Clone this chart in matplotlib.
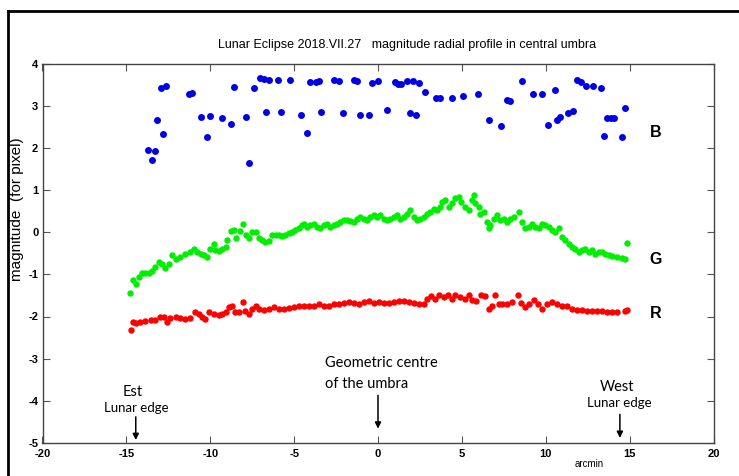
"""
Lunar eclipse 2018.VII.27 - magnitude radial profile across the central umbra.
Points read off the original figure (B, G, R channels).
"""

import matplotlib
matplotlib.use("Agg")
import matplotlib.pyplot as plt
from matplotlib.lines import Line2D
import numpy as np

plt.rcParams["axes.unicode_minus"] = False

# blue channel (arcmin, magnitude)
B_POINTS = [
    (-13.70, 1.95), (-13.49, 1.72), (-13.31, 1.92), (-13.15, 2.66), (-12.79, 2.32),
    (-12.95, 3.43), (-12.63, 3.47), (-11.26, 3.27), (-11.06, 3.30), (-10.54, 2.72),
    (-10.18, 2.25), (-10.03, 2.75), (-9.29, 2.71), (-8.75, 2.57), (-8.60, 3.44),
    (-7.88, 2.74), (-7.70, 1.63), (-7.37, 3.41), (-7.05, 3.65), (-6.81, 3.63),
    (-6.49, 3.61), (-6.67, 2.85), (-5.98, 3.62), (-5.77, 2.86), (-5.24, 3.61),
    (-4.58, 2.78), (-4.21, 2.35), (-4.05, 3.56), (-3.67, 3.55), (-3.49, 3.58),
    (-3.37, 2.86), (-2.64, 3.62), (-2.32, 3.59), (-2.10, 2.83), (-1.45, 3.62),
    (-1.23, 3.59), (-1.09, 2.78), (-0.55, 2.78), (-0.37, 3.54), (0.00, 3.59),
    (0.52, 2.90), (1.02, 3.55), (1.20, 3.51), (1.39, 3.51), (1.73, 3.58),
    (2.09, 3.58), (2.45, 3.54), (1.93, 2.83), (2.27, 2.78), (2.78, 3.32),
    (3.48, 3.19), (3.68, 3.19), (4.39, 3.19), (5.07, 3.24), (5.96, 3.27),
    (6.64, 2.66), (7.31, 2.51), (7.71, 3.13), (7.89, 3.10), (8.59, 3.58),
    (9.26, 3.27), (9.80, 3.27), (10.14, 2.54), (10.53, 3.36), (10.65, 2.65),
    (10.85, 2.72), (11.35, 2.83), (11.60, 2.88), (11.84, 3.61), (12.10, 3.56),
    (12.40, 3.47), (12.80, 3.46), (13.32, 3.42), (13.45, 2.27), (13.68, 2.70),
    (13.88, 2.70), (14.07, 2.70), (14.55, 2.25), (14.73, 2.94),
]

# green channel
G_POINTS = [
    (-14.76, -1.44), (-14.60, -1.14), (-14.40, -1.24), (-14.26, -1.06), (-14.06, -0.98),
    (-13.86, -0.96), (-13.67, -0.98), (-13.46, -0.93), (-13.27, -0.83), (-13.07, -0.71),
    (-12.87, -0.75), (-12.67, -0.85), (-12.47, -0.75), (-12.27, -0.55), (-12.07, -0.64),
    (-11.78, -0.59), (-11.48, -0.51), (-11.18, -0.47), (-10.98, -0.39), (-10.78, -0.47),
    (-10.58, -0.51), (-10.39, -0.55), (-10.18, -0.59), (-9.99, -0.39), (-9.79, -0.29),
    (-9.69, -0.43), (-9.49, -0.45), (-9.29, -0.41), (-9.09, -0.35), (-8.99, -0.19),
    (-8.75, 0.02), (-8.60, 0.05), (-8.44, -0.14), (-8.20, 0.02), (-8.06, 0.20),
    (-7.88, -0.06), (-7.70, -0.15), (-7.50, 0.00), (-7.30, 0.00), (-7.11, -0.13),
    (-6.91, -0.19), (-6.71, -0.23), (-6.51, -0.22), (-6.31, -0.07), (-6.11, -0.07),
    (-5.92, -0.07), (-5.72, -0.09), (-5.52, -0.07), (-5.32, -0.03), (-5.12, 0.00),
    (-4.92, 0.06), (-4.73, 0.10), (-4.53, 0.16), (-4.39, 0.20), (-4.23, 0.12),
    (-4.03, 0.16), (-3.83, 0.20), (-3.63, 0.12), (-3.43, 0.09), (-3.24, 0.18),
    (-3.03, 0.20), (-2.84, 0.12), (-2.64, 0.16), (-2.44, 0.20), (-2.24, 0.24),
    (-2.04, 0.28), (-1.84, 0.28), (-1.64, 0.26), (-1.45, 0.24), (-1.25, 0.32),
    (-1.05, 0.36), (-0.85, 0.32), (-0.65, 0.28), (-0.45, 0.36), (-0.26, 0.40),
    (-0.05, 0.36), (0.14, 0.40), (0.34, 0.32), (0.54, 0.28), (0.74, 0.32),
    (0.94, 0.36), (1.14, 0.40), (1.34, 0.32), (1.53, 0.36), (1.73, 0.44),
    (1.93, 0.52), (2.13, 0.36), (2.33, 0.28), (2.53, 0.32), (2.72, 0.36),
    (2.93, 0.44), (3.12, 0.48), (3.32, 0.56), (3.52, 0.52), (3.72, 0.60),
    (3.82, 0.72), (4.02, 0.76), (4.21, 0.60), (4.42, 0.68), (4.61, 0.80),
    (4.81, 0.84), (4.97, 0.72), (5.21, 0.60), (5.41, 0.52), (5.61, 0.76),
    (5.71, 0.88), (5.81, 0.68), (6.01, 0.60), (6.10, 0.44), (6.30, 0.48),
    (6.50, 0.24), (6.60, 0.09), (6.70, 0.16), (6.90, 0.32), (7.10, 0.40),
    (7.29, 0.28), (7.49, 0.32), (7.69, 0.24), (7.89, 0.32), (8.09, 0.36),
    (8.38, 0.48), (8.59, 0.24), (8.78, 0.09), (8.98, 0.12), (9.18, 0.20),
    (9.38, 0.12), (9.58, 0.09), (9.78, 0.20), (9.98, 0.16), (10.18, 0.12),
    (10.37, 0.05), (10.53, 0.00), (10.77, 0.09), (10.97, -0.11), (11.17, -0.19),
    (11.37, -0.27), (11.57, -0.35), (11.77, -0.39), (11.96, -0.47), (12.16, -0.43),
    (12.36, -0.39), (12.56, -0.47), (12.76, -0.43), (12.96, -0.51), (13.15, -0.47),
    (13.35, -0.47), (13.55, -0.51), (13.75, -0.55), (13.95, -0.57), (14.25, -0.59),
    (14.55, -0.61), (14.74, -0.63), (14.84, -0.25),
]

# red channel
R_POINTS = [
    (-14.71, -2.33), (-14.60, -2.13), (-14.40, -2.16), (-14.16, -2.13), (-13.86, -2.11),
    (-13.56, -2.09), (-13.27, -2.08), (-12.97, -2.00), (-12.77, -2.01), (-12.57, -2.13),
    (-12.37, -2.03), (-12.07, -2.01), (-11.78, -2.03), (-11.48, -2.05), (-11.18, -2.03),
    (-10.88, -1.90), (-10.69, -1.93), (-10.48, -2.01), (-10.29, -2.05), (-10.09, -1.90),
    (-9.79, -1.93), (-9.49, -1.97), (-9.29, -1.93), (-9.09, -1.90), (-8.90, -1.78),
    (-8.70, -1.74), (-8.50, -1.90), (-8.30, -1.90), (-8.04, -1.66), (-7.90, -1.86),
    (-7.70, -1.93), (-7.50, -1.82), (-7.30, -1.76), (-7.11, -1.82), (-6.81, -1.84),
    (-6.51, -1.82), (-6.21, -1.78), (-5.92, -1.82), (-5.62, -1.82), (-5.32, -1.79),
    (-5.02, -1.78), (-4.73, -1.76), (-4.43, -1.74), (-4.13, -1.76), (-3.83, -1.74),
    (-3.53, -1.71), (-3.24, -1.74), (-2.94, -1.74), (-2.64, -1.71), (-2.34, -1.70),
    (-2.04, -1.68), (-1.75, -1.66), (-1.45, -1.68), (-1.15, -1.70), (-0.85, -1.66),
    (-0.55, -1.63), (-0.26, -1.68), (0.04, -1.66), (0.34, -1.68), (0.64, -1.68),
    (0.94, -1.66), (1.23, -1.63), (1.53, -1.63), (1.83, -1.66), (2.13, -1.68),
    (2.43, -1.71), (2.72, -1.70), (2.93, -1.58), (3.18, -1.52), (3.42, -1.58),
    (3.66, -1.50), (3.92, -1.54), (4.18, -1.50), (4.42, -1.58), (4.61, -1.50),
    (4.91, -1.54), (5.21, -1.58), (5.41, -1.50), (5.61, -1.62), (5.85, -1.63),
    (6.16, -1.48), (6.40, -1.52), (6.60, -1.82), (6.80, -1.74), (7.00, -1.50),
    (7.19, -1.71), (7.40, -1.70), (7.69, -1.71), (7.99, -1.66), (8.35, -1.48),
    (8.55, -1.68), (8.78, -1.78), (8.98, -1.70), (9.28, -1.62), (9.54, -1.70),
    (9.78, -1.82), (10.08, -1.70), (10.37, -1.66), (10.67, -1.71), (10.97, -1.74),
    (11.27, -1.76), (11.57, -1.82), (11.86, -1.84), (12.16, -1.84), (12.46, -1.86),
    (12.76, -1.86), (13.06, -1.87), (13.35, -1.87), (13.65, -1.90), (13.95, -1.90),
    (14.25, -1.90), (14.74, -1.87), (14.84, -1.84),
]

SERIES = [("B", B_POINTS, "#0000e6", 5.0, 2.37),
          ("G", G_POINTS, "#00ee00", 4.6, -0.64),
          ("R", R_POINTS, "#ff0000", 4.6, -1.93)]

X_TICKS = [-20, -15, -10, -5, 0, 5, 10, 15, 20]
Y_TICKS = [-5, -4, -3, -2, -1, 0, 1, 2, 3, 4]

TITLE = "Lunar Eclipse 2018.VII.27   magnitude radial profile in central umbra"


def main():
    W, H = 739, 476
    fig = plt.figure(figsize=(W / 100, H / 100), dpi=100)
    ax = fig.add_axes([42.5 / W, 1 - 443 / H, 671 / W, 379.5 / H])

    for name, pts, col, ms, ylab in SERIES:
        xy = np.array(pts).T
        ax.plot(xy[0], xy[1], "o", color=col, markersize=ms,
                markeredgewidth=0, linestyle="none")
        ax.text(16.55, ylab, name, fontsize=11.5, fontweight="bold",
                ha="center", va="center", family="Liberation Sans")

    ax.set_xlim(-20, 20)
    ax.set_ylim(-5, 4)
    ax.set_xticks(X_TICKS)
    ax.set_yticks(Y_TICKS)
    ax.tick_params(direction="in", top=True, right=True, length=5, width=0.8,
                   color="#555555", labelsize=8)
    ax.tick_params(axis="x", pad=4)
    ax.tick_params(axis="y", pad=3)
    for lbl in ax.get_xticklabels() + ax.get_yticklabels():
        lbl.set_fontweight("bold")
        lbl.set_family("Liberation Sans")
    for sp in ax.spines.values():
        sp.set_color("#444444")
        sp.set_linewidth(1.0)

    # annotations: lunar edges and umbra centre
    note = dict(family="Lato", color="black", ha="center", va="center")
    ax.text(-14.65, -3.80, "Est", fontsize=10.5, **note)
    ax.text(-14.40, -4.18, "Lunar edge", fontsize=9.5, **note)
    ax.text(14.25, -3.68, "West", fontsize=10.5, **note)
    ax.text(14.40, -4.04, "Lunar edge", fontsize=9.5, **note)
    ax.text(-3.16, -3.11, "Geometric centre", fontsize=10.5, family="Lato",
            ha="left", va="center")
    ax.text(-3.16, -3.59, "of the umbra", fontsize=10.5, family="Lato",
            ha="left", va="center")
    arrow = dict(arrowstyle="-|>", color="black", lw=1.1, mutation_scale=9,
                 shrinkA=0, shrinkB=0)
    for x, y0, y1 in [(-14.44, -4.38, -4.93), (0.0, -3.87, -4.66),
                      (14.42, -4.32, -4.88)]:
        ax.annotate("", xy=(x, y1), xytext=(x, y0), arrowprops=arrow)

    ax.text(12.56, -5.49, "arcmin", fontsize=7, ha="center", va="center",
            family="Liberation Sans", clip_on=False)

    fig.text(218 / W, 1 - 45 / H, TITLE, fontsize=9, ha="left",
             va="center", family="Liberation Sans")
    fig.text(17 / W, 1 - 209 / H, "magnitude  (for pixel)", fontsize=11,
             rotation=90, ha="center", va="center", family="Liberation Sans")

    # outer frame of the original picture
    fig.add_artist(Line2D([8 / W, 8 / W], [0, 1 - 11 / H],
                          transform=fig.transFigure, color="black", lw=2))
    fig.add_artist(Line2D([8 / W, 1], [1 - 11 / H, 1 - 11 / H],
                          transform=fig.transFigure, color="black", lw=2))

    fig.savefig("out.png", dpi=100)
    plt.close(fig)


if __name__ == "__main__":
    main()
